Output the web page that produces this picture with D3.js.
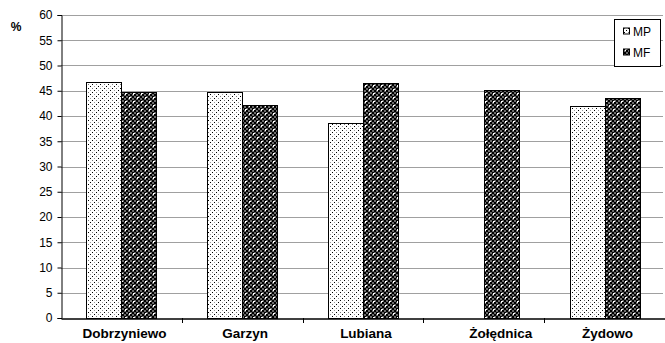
<!DOCTYPE html>
<html><head><meta charset="utf-8">
<script src="https://cdn.jsdelivr.net/npm/d3@7"></script>
<style>html,body{margin:0;padding:0;background:#fff;}svg{display:block;}</style>
</head><body>
<svg id="c" width="665" height="343"></svg>
<script>
const categories = ["Dobrzyniewo", "Garzyn", "Lubiana", "Żołędnica", "Żydowo"];
const seriesNames = ["MP", "MF"];
const mpValues = [46.8, 44.7, 38.6, null, 41.9];
const mfValues = [44.7, 42.2, 46.6, 45.2, 43.6];
const yTicks = [0, 5, 10, 15, 20, 25, 30, 35, 40, 45, 50, 55, 60];
const yLabel = "%";

(function(){
const svg = d3.select("#c");
const defs = svg.append("defs");
// MP pattern: white with sparse dots
const p1 = defs.append("pattern").attr("id","pMP").attr("patternUnits","userSpaceOnUse").attr("width",8).attr("height",8);
p1.append("rect").attr("width",8).attr("height",8).attr("fill","#fff");
[[0,0,"#000"],[4,0,"#777"],[2,2,"#999"],[6,2,"#000"],[0,4,"#777"],[4,4,"#000"],[2,6,"#000"],[6,6,"#999"]].forEach(d=>
  p1.append("rect").attr("x",d[0]).attr("y",d[1]).attr("width",1).attr("height",1).attr("fill",d[2]));
// MF pattern: dark checker with white dots
const p2 = defs.append("pattern").attr("id","pMF").attr("patternUnits","userSpaceOnUse").attr("width",8).attr("height",8);
p2.append("rect").attr("width",8).attr("height",8).attr("fill","#6a6a6a");
for (let i=0;i<4;i++) for (let j=0;j<4;j++) if ((i+j)%2===0)
  p2.append("rect").attr("x",i*2).attr("y",j*2).attr("width",2).attr("height",2).attr("fill","#000");
[[5,6],[6,5],[5,5],[1,2],[2,1],[1,1]].forEach(d=>
  p2.append("rect").attr("x",d[0]).attr("y",d[1]).attr("width",1).attr("height",1).attr("fill","#fff"));

const mLeft = 61, mRight = 665, mTop = 15, mBottom = 318;
const x = d3.scaleBand().domain(categories).range([mLeft, mRight]).paddingInner(0).paddingOuter(0);
const xs = d3.scaleBand().domain(seriesNames).range([0, x.bandwidth()]).paddingInner(0).paddingOuter(0.73);
const y = d3.scaleLinear().domain([0, 60]).range([mBottom, mTop]);

// gridlines
svg.append("g").selectAll("line").data(yTicks.filter(t=>t>0)).join("line")
  .attr("x1", mLeft).attr("x2", mRight - 2)
  .attr("y1", d=>Math.round(y(d))+0.5).attr("y2", d=>Math.round(y(d))+0.5)
  .attr("stroke", "#a0a0a0").attr("stroke-width", 1);

const fills = {MP: "url(#pMP)", MF: "url(#pMF)"};
const rows = [];
categories.forEach((c,i)=>{
  rows.push({c, s:"MP", v: mpValues[i]});
  rows.push({c, s:"MF", v: mfValues[i]});
});
svg.append("g").selectAll("rect").data(rows.filter(r=>r.v!=null)).join("rect")
  .attr("x", d=>Math.round(x(d.c)+xs(d.s))+0.5)
  .attr("y", d=>Math.round(y(d.v))+0.5)
  .attr("width", d=>Math.round(xs.bandwidth()))
  .attr("height", d=>Math.round(y(0)-y(d.v)))
  .attr("fill", d=>fills[d.s]).attr("stroke", "#000").attr("stroke-width", 1);

// y axis
const ya = svg.append("g").attr("transform", `translate(${mLeft+0.5},0)`)
  .call(d3.axisLeft(y).tickValues(yTicks).tickSize(4).tickPadding(5));
ya.select(".domain").attr("stroke","#000");
ya.selectAll("text").attr("font-family","Liberation Sans, Arial, sans-serif").attr("font-size","12px").attr("fill","#000");

// x axis
const xa = svg.append("g").attr("transform", `translate(0,${mBottom+0.5})`)
  .call(d3.axisBottom(x).tickSize(0).tickPadding(10));
xa.select(".domain").attr("stroke","#000").attr("stroke-width",1.3);
xa.selectAll("text").attr("font-family","Liberation Sans, Arial, sans-serif").attr("font-size","13.5px")
  .attr("font-weight","bold").attr("fill","#000")
  .attr("dx", d => d === "Żołędnica" ? 17 : 3);
// category separators
svg.append("g").selectAll("line").data(categories.slice(1)).join("line")
  .attr("x1", d=>Math.round(x(d))+0.5).attr("x2", d=>Math.round(x(d))+0.5)
  .attr("y1", mBottom).attr("y2", mBottom+5).attr("stroke","#000");

svg.append("text").attr("x", 16).attr("y", 31).attr("text-anchor","middle")
  .attr("font-family","Liberation Sans, Arial, sans-serif").attr("font-size","12px").attr("font-weight","bold").text(yLabel);

// legend
const lg = svg.append("g");
lg.append("rect").attr("x", 614.5).attr("y", 19.5).attr("width", 46).attr("height", 47)
  .attr("fill","#fff").attr("stroke","#000");
seriesNames.forEach((s,i)=>{
  const cy = 31 + i*21;
  lg.append("rect").attr("x", 623.5).attr("y", cy-3).attr("width", 6).attr("height", 6)
    .attr("fill", fills[s]).attr("stroke","#000");
  lg.append("text").attr("x", 633).attr("y", cy+4.5).attr("font-family","Liberation Sans, Arial, sans-serif")
    .attr("font-size","12px").text(s);
});
})();
</script>
</body></html>
